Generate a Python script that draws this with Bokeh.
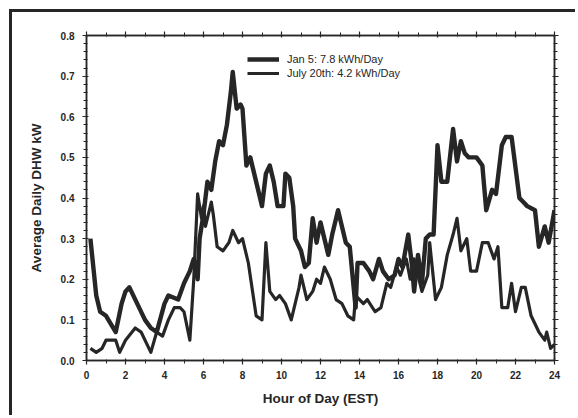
from bokeh.plotting import figure
from bokeh.models import (LinearAxis, SingleIntervalTicker, PrintfTickFormatter,
                          CustomJSTickFormatter, Legend, LegendItem, Range1d,
                          ColumnDataSource)
from bokeh.embed import file_html
from bokeh.resources import INLINE

# Jan 5 series (hour, kW)
jan_hours = [0.2, 0.5, 0.7, 1.0, 1.5, 1.8, 2.0, 2.2, 2.6, 3.0, 3.3, 3.6, 4.0, 4.2,
             4.7, 5.0, 5.3, 5.5, 5.7, 5.8, 6.0, 6.2, 6.4, 6.6, 6.8, 7.0, 7.2, 7.4,
             7.5, 7.7, 7.9, 8.0, 8.2, 8.4, 8.6, 9.0, 9.2, 9.4, 9.6, 9.8, 10.1,
             10.2, 10.4, 10.6, 10.7, 11.0, 11.2, 11.4, 11.6, 11.8, 12.0, 12.2,
             12.4, 12.6, 12.9, 13.1, 13.3, 13.5, 13.8, 13.9, 14.2, 14.5, 14.7,
             15.0, 15.2, 15.5, 15.8, 16.0, 16.2, 16.5, 16.7, 16.8, 17.0, 17.2,
             17.4, 17.6, 17.8, 18.0, 18.2, 18.5, 18.8, 19.0, 19.2, 19.4, 19.6,
             20.0, 20.3, 20.5, 20.8, 21.0, 21.3, 21.5, 21.8, 22.2, 22.4, 22.6,
             23.0, 23.2, 23.5, 23.7, 24.0]
jan_kw = [0.30, 0.16, 0.12, 0.11, 0.07, 0.14, 0.17, 0.18, 0.14, 0.10, 0.08, 0.07,
          0.14, 0.16, 0.15, 0.19, 0.22, 0.25, 0.20, 0.30, 0.36, 0.44, 0.42, 0.49,
          0.54, 0.53, 0.58, 0.66, 0.71, 0.62, 0.63, 0.62, 0.48, 0.50, 0.46, 0.38,
          0.46, 0.48, 0.44, 0.38, 0.38, 0.46, 0.45, 0.38, 0.30, 0.27, 0.23, 0.24,
          0.35, 0.29, 0.34, 0.30, 0.26, 0.31, 0.37, 0.33, 0.29, 0.28, 0.13, 0.24,
          0.24, 0.22, 0.20, 0.25, 0.22, 0.20, 0.21, 0.25, 0.23, 0.31, 0.23, 0.17,
          0.26, 0.19, 0.30, 0.31, 0.31, 0.53, 0.44, 0.44, 0.57, 0.49, 0.54, 0.51,
          0.50, 0.50, 0.48, 0.37, 0.42, 0.41, 0.53, 0.55, 0.55, 0.40, 0.39, 0.38,
          0.37, 0.28, 0.33, 0.29, 0.37]

# July 20th series (hour, kW)
jul_hours = [0.2, 0.5, 0.8, 1.0, 1.5, 1.7, 2.0, 2.5, 2.8, 3.3, 3.6, 3.9, 4.2, 4.5,
             4.8, 5.0, 5.3, 5.5, 5.7, 5.9, 6.0, 6.1, 6.4, 6.5, 6.7, 7.0, 7.3, 7.5,
             7.8, 8.0, 8.3, 8.7, 9.0, 9.2, 9.4, 9.7, 9.9, 10.2, 10.5, 10.9, 11.0,
             11.3, 11.6, 11.8, 12.0, 12.2, 12.5, 12.8, 13.1, 13.4, 13.7, 13.8,
             14.0, 14.2, 14.4, 14.8, 15.1, 15.4, 15.6, 15.9, 16.1, 16.4, 16.6,
             16.8, 17.0, 17.2, 17.5, 17.6, 17.9, 18.2, 18.5, 18.8, 19.0, 19.2,
             19.5, 19.7, 20.0, 20.3, 20.6, 20.9, 21.1, 21.3, 21.6, 21.8, 22.0,
             22.3, 22.5, 22.8, 23.2, 23.5, 23.6, 23.8, 24.0]
jul_kw = [0.03, 0.02, 0.03, 0.05, 0.05, 0.02, 0.05, 0.08, 0.07, 0.02, 0.07, 0.06,
          0.10, 0.13, 0.13, 0.12, 0.05, 0.20, 0.41, 0.35, 0.38, 0.33, 0.39, 0.36,
          0.28, 0.27, 0.29, 0.32, 0.29, 0.30, 0.24, 0.11, 0.10, 0.29, 0.17, 0.15,
          0.16, 0.14, 0.10, 0.18, 0.21, 0.15, 0.17, 0.20, 0.19, 0.23, 0.20, 0.15,
          0.14, 0.11, 0.10, 0.16, 0.15, 0.14, 0.15, 0.12, 0.13, 0.19, 0.18, 0.23,
          0.21, 0.25, 0.20, 0.25, 0.21, 0.17, 0.21, 0.29, 0.15, 0.18, 0.26, 0.31,
          0.35, 0.27, 0.30, 0.22, 0.22, 0.29, 0.29, 0.25, 0.28, 0.13, 0.13, 0.19,
          0.12, 0.18, 0.18, 0.11, 0.07, 0.05, 0.07, 0.03, 0.04]

series_labels = ["Jan 5: 7.8 kWh/Day", "July 20th: 4.2 kWh/Day"]
x_label = "Hour of Day (EST)"
y_label = "Average Daily DHW kW"

INK = "#262626"
FONT = "Liberation Sans"

p = figure(width=566, height=406, output_backend="svg", toolbar_location=None,
           x_range=Range1d(0, 24), y_range=Range1d(0, 0.8),
           min_border_left=74, min_border_right=24, min_border_top=23,
           min_border_bottom=58, x_axis_type=None, y_axis_type=None)
p.margin = (9, 0, 0, 9)
p.styles = {"border-top": "3px solid #262626", "border-left": "3px solid #262626"}
p.grid.visible = False
p.outline_line_color = INK
p.outline_line_width = 1.5
p.background_fill_color = "white"
p.border_fill_color = "white"

blank = CustomJSTickFormatter(code="return '';")


def style_axis(ax, labels=True):
    ax.axis_line_color = INK
    ax.axis_line_width = 1.5
    ax.major_tick_line_color = INK
    ax.minor_tick_line_color = INK
    ax.major_tick_line_width = 1.2
    ax.minor_tick_line_width = 1
    ax.major_tick_out = 4
    ax.major_tick_in = 2
    ax.minor_tick_out = 3
    ax.minor_tick_in = 1
    ax.major_label_text_font = FONT
    ax.major_label_text_font_style = "bold"
    ax.major_label_text_font_size = "10px"
    ax.major_label_text_color = INK
    ax.axis_label_text_font = FONT
    ax.axis_label_text_font_style = "bold"
    ax.axis_label_text_font_size = "13.5px"
    ax.axis_label_text_color = INK
    if not labels:
        ax.formatter = blank
        ax.major_label_standoff = 0


xb = LinearAxis(ticker=SingleIntervalTicker(interval=2, num_minor_ticks=2),
                axis_label=x_label)
style_axis(xb)
xb.major_label_standoff = 6
xb.axis_label_standoff = 9
p.add_layout(xb, "below")

xt = LinearAxis(ticker=SingleIntervalTicker(interval=2, num_minor_ticks=2))
style_axis(xt, labels=False)
p.add_layout(xt, "above")

yl = LinearAxis(ticker=SingleIntervalTicker(interval=0.1, num_minor_ticks=5),
                formatter=PrintfTickFormatter(format="%.1f"), axis_label=y_label)
style_axis(yl)
yl.major_label_standoff = 8
yl.axis_label_standoff = 14
p.add_layout(yl, "left")

yr = LinearAxis(ticker=SingleIntervalTicker(interval=0.1, num_minor_ticks=5))
style_axis(yr, labels=False)
p.add_layout(yr, "right")

jan_src = ColumnDataSource(dict(x=jan_hours, y=jan_kw))
jul_src = ColumnDataSource(dict(x=jul_hours, y=jul_kw))
r_jan = p.line("x", "y", source=jan_src, line_color=INK, line_width=4.4,
               line_join="round")
r_jul = p.line("x", "y", source=jul_src, line_color=INK, line_width=3.2,
               line_join="round")

legend = Legend(items=[LegendItem(label=series_labels[0], renderers=[r_jan]),
                       LegendItem(label=series_labels[1], renderers=[r_jul])],
                location=(161, 280), orientation="vertical")
legend.background_fill_alpha = 0
legend.border_line_alpha = 0
legend.padding = 0
legend.spacing = 0
legend.margin = 0
legend.glyph_width = 32
legend.glyph_height = 14
legend.label_height = 14
legend.label_standoff = 8
legend.label_text_font = FONT
legend.label_text_font_size = "11px"
legend.label_text_color = INK
p.add_layout(legend, "center")

open("out.html", "w").write(file_html(p, INLINE))
